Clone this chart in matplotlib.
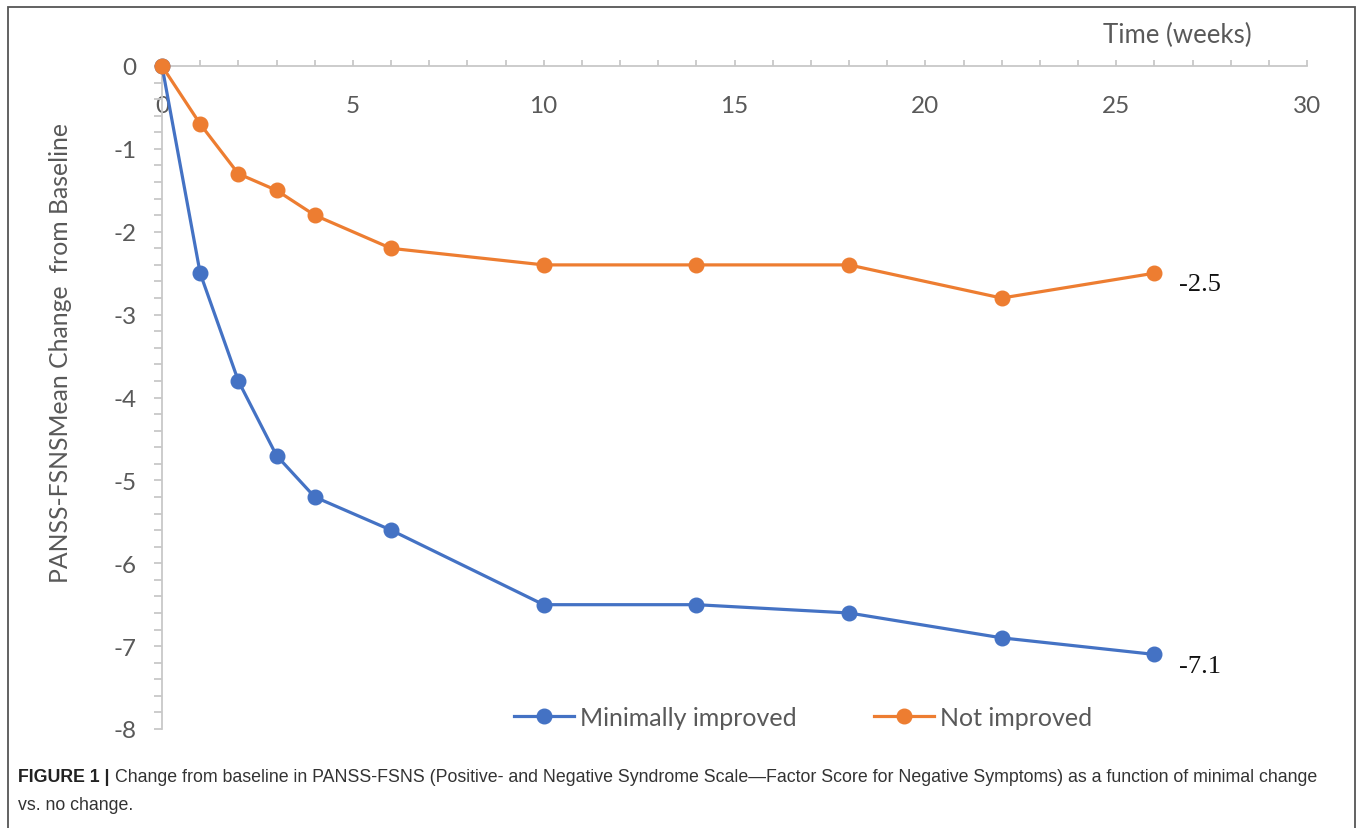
import matplotlib
matplotlib.use("Agg")
import matplotlib.pyplot as plt
from matplotlib.ticker import MultipleLocator
from matplotlib.patches import Rectangle

# data
weeks = [0, 1, 2, 3, 4, 6, 10, 14, 18, 22, 26]
minimally_improved = [0, -2.5, -3.8, -4.7, -5.2, -5.6, -6.5, -6.5, -6.6, -6.9, -7.1]
not_improved = [0, -0.7, -1.3, -1.5, -1.8, -2.2, -2.4, -2.4, -2.4, -2.8, -2.5]
series_names = ["Minimally improved", "Not improved"]
end_labels = ["-7.1", "-2.5"]

x_title = "Time (weeks)"
y_title = "PANSS-FSNSMean Change  from Baseline"
caption_bold = "FIGURE 1 |"
caption_line1 = ("Change from baseline in PANSS-FSNS (Positive- and Negative Syndrome "
                 "Scale\u2014Factor Score for Negative Symptoms) as a function of minimal change")
caption_line2 = "vs. no change."

blue = "#4472C4"
orange = "#ED7D31"
grey_txt = "#595959"
axis_col = "#c8c8c8"

W, H = 1358, 829
fig = plt.figure(figsize=(W / 100, H / 100), dpi=100)
ax = fig.add_axes([162 / W, 1 - 730 / H, 1145 / W, 663 / H])

sans = ["Lato", "DejaVu Sans"]

# lines
for yvals, name, col, lab in [(minimally_improved, series_names[0], blue, end_labels[0]),
                              (not_improved, series_names[1], orange, end_labels[1])]:
    ax.plot(weeks, yvals, color=col, lw=2.3, marker="o", markersize=10.5,
            label=name, clip_on=False, zorder=3)
    ax.annotate(lab, (weeks[-1], yvals[-1]), xytext=(18, -8), textcoords="offset points",
                ha="left", va="center", fontsize=19, family="Liberation Serif", color="#111111")

ax.set_xlim(0, 30)
ax.set_ylim(-8, 0)

# axes lines: x axis sits on top (y=0), y axis on the left
for s in ["right", "bottom"]:
    ax.spines[s].set_visible(False)
for s in ["left", "top"]:
    ax.spines[s].set_color(axis_col)
    ax.spines[s].set_linewidth(1.3)

ax.xaxis.set_major_locator(MultipleLocator(5))
ax.xaxis.set_minor_locator(MultipleLocator(1))
ax.yaxis.set_major_locator(MultipleLocator(1))
ax.yaxis.set_minor_locator(MultipleLocator(0.2))

ax.tick_params(axis="x", which="both", top=True, bottom=False, labeltop=True, labelbottom=False,
               direction="out", length=4.5, width=1.3, color=axis_col)
ax.tick_params(axis="x", which="major", pad=-40.5, labelsize=17.5, labelcolor=grey_txt)
ax.tick_params(axis="y", which="both", direction="out", length=5.5, width=1.3, color=axis_col)
ax.tick_params(axis="y", which="major", pad=13, labelsize=17.5, labelcolor=grey_txt)
ax.set_xticks(range(0, 31, 5))
ax.set_xticklabels([str(v) for v in range(0, 31, 5)], family=sans)
ax.set_yticks(range(-8, 1))
ax.set_yticklabels([str(v) for v in range(-8, 1)], family=sans)

ax.text(0.952, 1.048, x_title, transform=ax.transAxes, ha="right", va="center",
        fontsize=18.5, color=grey_txt, family=sans)
fig.text(60 / W, 1 - 353 / H, y_title, rotation=90, ha="center", va="center",
         fontsize=17.8, color=grey_txt, family=sans)

leg = ax.legend(loc="center", bbox_to_anchor=(0.56, 0.018), ncol=2, frameon=False,
                handlelength=2.4, handletextpad=0.25, columnspacing=3.1,
                prop={"family": sans, "size": 18})
for t in leg.get_texts():
    t.set_color(grey_txt)

# caption, shrunk until the first line fits the frame
cap_y1 = 1 - 778 / H
cap_y2 = 1 - 806 / H
cap_font = ["Liberation Sans"]
r = fig.canvas.get_renderer()
size = 14
while True:
    tb = fig.text(18 / W, cap_y1, caption_bold, fontsize=size, weight="bold", color="#222222",
                  family=cap_font, va="center")
    bb = tb.get_window_extent(renderer=r)
    t1 = fig.text((bb.x1 + 5) / W, cap_y1, caption_line1, fontsize=size, color="#333333",
                  family=cap_font, va="center")
    if t1.get_window_extent(renderer=r).x1 <= 1336 or size < 9:
        break
    tb.remove()
    t1.remove()
    size -= 0.25
fig.text(18 / W, cap_y2, caption_line2, fontsize=size, color="#333333",
         family=cap_font, va="center")

# outer frame
fig.patches.append(Rectangle((8 / W, -0.05), 1347 / W, 1.05 - 8 / H, transform=fig.transFigure,
                             fill=False, edgecolor="#555555", lw=1.3))

fig.savefig("out.png", dpi=100)
